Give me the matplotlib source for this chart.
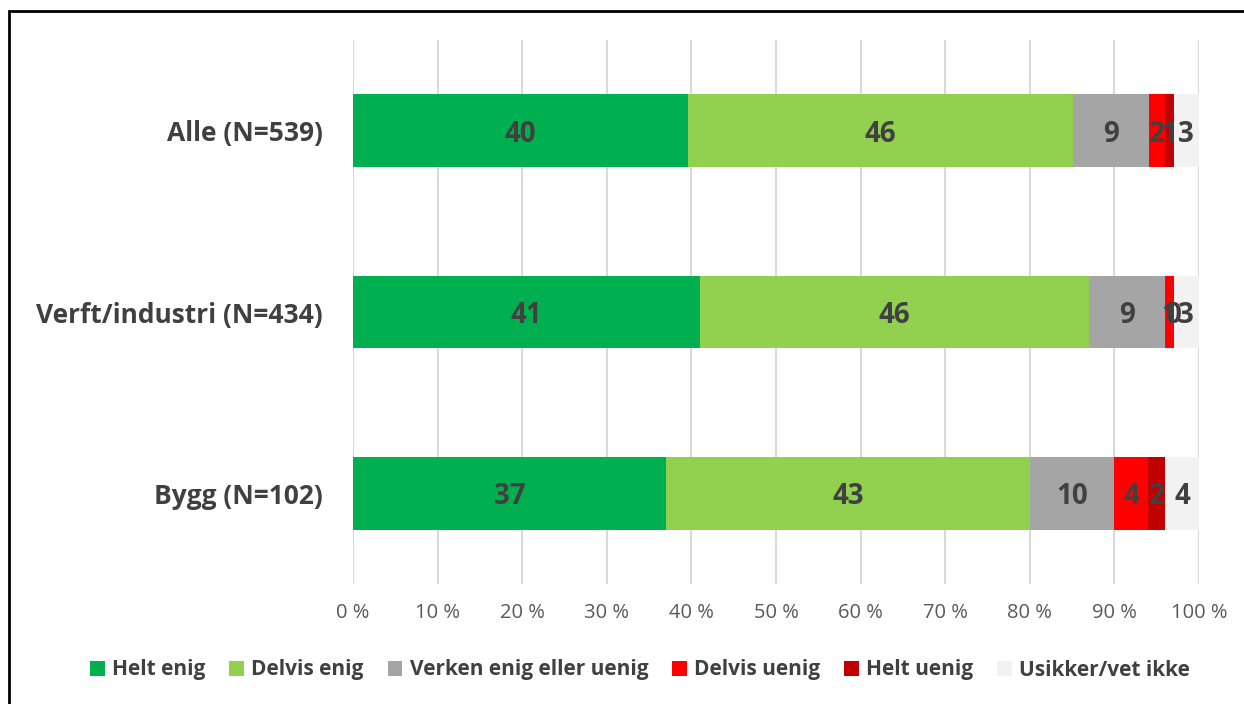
import numpy as np
import matplotlib.pyplot as plt
from matplotlib.patches import Rectangle

plt.rcParams['font.family'] = ['Open Sans', 'DejaVu Sans']

groups = ['Alle (N=539)', 'Verft/industri (N=434)', 'Bygg (N=102)']
series = ['Helt enig', 'Delvis enig', 'Verken enig eller uenig',
          'Delvis uenig', 'Helt uenig', 'Usikker/vet ikke']
helt_enig = [40, 41, 37]
delvis_enig = [46, 46, 43]
verken = [9, 9, 10]
delvis_uenig = [2, 1, 4]
helt_uenig = [1, 0, 2]
usikker = [3, 3, 4]
colors = ['#00B050', '#92D050', '#A5A5A5', '#FF0000', '#C00000', '#F2F2F2']

vals = np.array([helt_enig, delvis_enig, verken, delvis_uenig, helt_uenig, usikker], dtype=float)
shares = vals / vals.sum(axis=0) * 100

fig = plt.figure(figsize=(12.44, 7.04), dpi=100)
fig.patches.append(Rectangle((9 / 1244, -0.1), 1.2, 1 - 11 / 704 + 0.1,
                             transform=fig.transFigure, fill=False,
                             edgecolor='black', linewidth=2))

ax = fig.add_axes([353 / 1244, 1 - 584 / 704, (1199 - 353) / 1244, (584 - 40) / 704])
y = np.arange(len(groups))
left = np.zeros(len(groups))
for i, name in enumerate(series):
    ax.barh(y, shares[i], left=left, height=0.4, color=colors[i], label=name, zorder=2)
    for j in range(len(groups)):
        ax.text(left[j] + shares[i][j] / 2, y[j] + 0.02, str(int(vals[i][j])),
                ha='center', va='center', fontsize=20, fontweight='bold',
                color='#404040', zorder=3)
    left += shares[i]

ax.set_ylim(len(groups) - 0.5, -0.5)
ax.set_xlim(0, 100)
ax.set_xticks(np.arange(0, 101, 10))
ax.set_xticklabels([f'{t} %' for t in range(0, 101, 10)], fontsize=14.5, color='#595959')
ax.set_yticks(y)
ax.set_yticklabels(groups, fontsize=19, fontweight='bold', color='#404040')
ax.tick_params(axis='both', length=0)
ax.tick_params(axis='x', pad=14)
ax.tick_params(axis='y', pad=22)
ax.grid(axis='x', color='#D9D9D9', linewidth=1.5, zorder=0)
for s in ax.spines.values():
    s.set_visible(False)

fig.legend(loc='center', bbox_to_anchor=(640 / 1244, 1 - 670 / 704), ncol=6,
           frameon=False, handlelength=0.7, handleheight=0.7, handletextpad=0.35,
           columnspacing=1.15, prop={'size': 15, 'weight': 'bold'}, labelcolor='#404040')

fig.savefig('out.png', dpi=100)
